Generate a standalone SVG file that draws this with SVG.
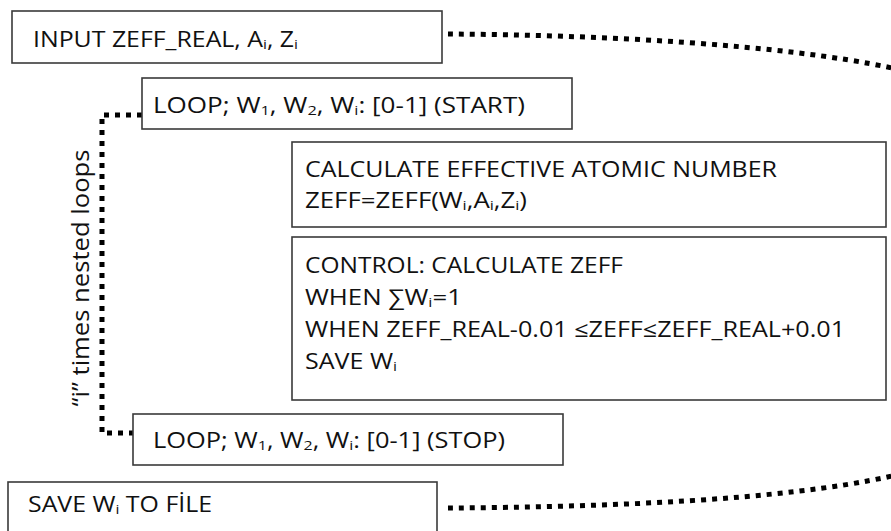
<svg xmlns="http://www.w3.org/2000/svg" width="891" height="531" viewBox="0 0 891 531">
<style>
.box{fill:#fff;stroke:#3a3a3a;stroke-width:1.6}
.t{font-family:"Open Sans","Liberation Sans",Arial,sans-serif;font-size:21.5px;fill:#111}
.s{font-size:13.5px}
.dot{fill:none;stroke:#000;stroke-width:5;stroke-dasharray:5 6}
</style>
<rect width="891" height="531" fill="#fff"/>
<g id="connectors">
<path class="dot" d="M448,34 C600,35 780,44 892,68"/>
<path class="dot" d="M448,508 C600,507 780,501 892,476"/>
<path class="dot" d="M142,115 L102,115 L102,433 L142,433"/>
</g>
<g id="input">
<rect class="box" x="12" y="11" width="430" height="52"/>
<text class="t" x="33" y="47" textLength="265" lengthAdjust="spacingAndGlyphs">INPUT ZEFF_REAL, A<tspan class="s" dy="2">i</tspan><tspan dy="-2">, Z</tspan><tspan class="s" dy="2">i</tspan></text>
</g>
<g id="loopstart">
<rect class="box" x="142" y="78" width="430" height="51"/>
<text class="t" x="153" y="113" textLength="372" lengthAdjust="spacingAndGlyphs">LOOP; W<tspan class="s" dy="2">1</tspan><tspan dy="-2">, W</tspan><tspan class="s" dy="2">2</tspan><tspan dy="-2">, W</tspan><tspan class="s" dy="2">i</tspan><tspan dy="-2">: [0-1] (START)</tspan></text>
</g>
<g id="calc">
<rect class="box" x="292" y="142" width="594" height="85"/>
<text class="t" x="305" y="177" textLength="472" lengthAdjust="spacingAndGlyphs">CALCULATE EFFECTIVE ATOMIC NUMBER</text>
<text class="t" x="305" y="208" textLength="222" lengthAdjust="spacingAndGlyphs">ZEFF=ZEFF(W<tspan class="s" dy="2">i</tspan><tspan dy="-2">,A</tspan><tspan class="s" dy="2">i</tspan><tspan dy="-2">,Z</tspan><tspan class="s" dy="2">i</tspan><tspan dy="-2">)</tspan></text>
</g>
<g id="control">
<rect class="box" x="292" y="237" width="594" height="163"/>
<text class="t" x="305" y="273" textLength="318" lengthAdjust="spacingAndGlyphs">CONTROL: CALCULATE ZEFF</text>
<text class="t" x="305" y="305" textLength="157" lengthAdjust="spacingAndGlyphs">WHEN ∑W<tspan class="s" dy="2">i</tspan><tspan dy="-2">=1</tspan></text>
<text class="t" x="305" y="337" textLength="540" lengthAdjust="spacingAndGlyphs">WHEN ZEFF_REAL-0.01 ≤ZEFF≤ZEFF_REAL+0.01</text>
<text class="t" x="305" y="369" textLength="92" lengthAdjust="spacingAndGlyphs">SAVE W<tspan class="s" dy="2">i</tspan></text>
</g>
<g id="loopstop">
<rect class="box" x="133" y="414" width="430" height="51"/>
<text class="t" x="153" y="448" textLength="352" lengthAdjust="spacingAndGlyphs">LOOP; W<tspan class="s" dy="2">1</tspan><tspan dy="-2">, W</tspan><tspan class="s" dy="2">2</tspan><tspan dy="-2">, W</tspan><tspan class="s" dy="2">i</tspan><tspan dy="-2">: [0-1] (STOP)</tspan></text>
</g>
<g id="save">
<rect class="box" x="8" y="482" width="429" height="60"/>
<text class="t" x="28" y="512" textLength="184" lengthAdjust="spacingAndGlyphs">SAVE W<tspan class="s" dy="2">i</tspan><tspan dy="-2"> TO FİLE</tspan></text>
</g>
<g id="label">
<text class="t" transform="translate(89,278) rotate(-90)" text-anchor="middle" style="font-size:23.5px" textLength="257" lengthAdjust="spacingAndGlyphs">“i” times nested loops</text>
</g>
</svg>
